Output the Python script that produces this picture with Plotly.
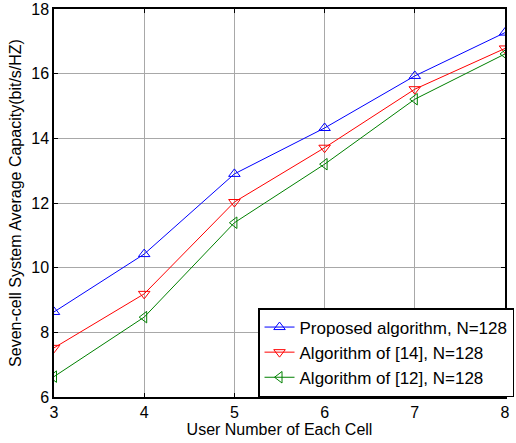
import plotly.graph_objects as go

users = [3, 4, 5, 6, 7, 8]
proposed = [8.63, 10.42, 12.9, 14.32, 15.93, 17.27]
alg14 = [7.52, 9.19, 12.03, 13.71, 15.52, 16.78]
alg12 = [6.63, 8.47, 11.39, 13.2, 15.21, 16.61]
names = ["Proposed algorithm, N=128", "Algorithm of [14], N=128", "Algorithm of [12], N=128"]
colors = ["#0000FF", "#FF0000", "#008000"]
symbols = ["triangle-up-open", "triangle-down-open", "triangle-left-open"]
x_ticks = [3, 4, 5, 6, 7, 8]
y_ticks = [6, 8, 10, 12, 14, 16, 18]

fig = go.Figure()
for ys, nm, c, s in zip([proposed, alg14, alg12], names, colors, symbols):
    fig.add_trace(go.Scatter(x=users, y=ys, name=nm, mode="lines+markers",
                             line=dict(color=c, width=1),
                             marker=dict(symbol=s, size=10, color=c, line=dict(color=c, width=1))))

font = "Arial, Liberation Sans, sans-serif"
axis_common = dict(showline=True, linecolor="black", linewidth=1.5, mirror="ticks",
                   ticks="inside", ticklen=4, tickcolor="black",
                   showgrid=True, gridcolor="#a8a8a8", gridwidth=1,
                   zeroline=False, ticklabeloverflow="allow",
                   tickfont=dict(family=font, size=16, color="black"))
fig.update_xaxes(range=[3, 8], tickvals=x_ticks,
                 title=dict(text="User Number of Each Cell", font=dict(family=font, size=16, color="black"), standoff=4),
                 **axis_common)
fig.update_yaxes(range=[6, 18], tickvals=y_ticks,
                 title=dict(text="Seven-cell System Average Capacity(bit/s/HZ)", font=dict(family=font, size=16, color="black"), standoff=6),
                 **axis_common)
fig.update_layout(width=516, height=443, margin=dict(l=54, r=2, t=9, b=46),
                  plot_bgcolor="white", paper_bgcolor="white",
                  legend=dict(x=1.02, y=0, xanchor="right", yanchor="bottom",
                              bordercolor="black", borderwidth=1.5, bgcolor="white",
                              font=dict(family=font, size=17, color="black"),
                              tracegroupgap=0, itemwidth=30))
fig.write_html("out.html")
